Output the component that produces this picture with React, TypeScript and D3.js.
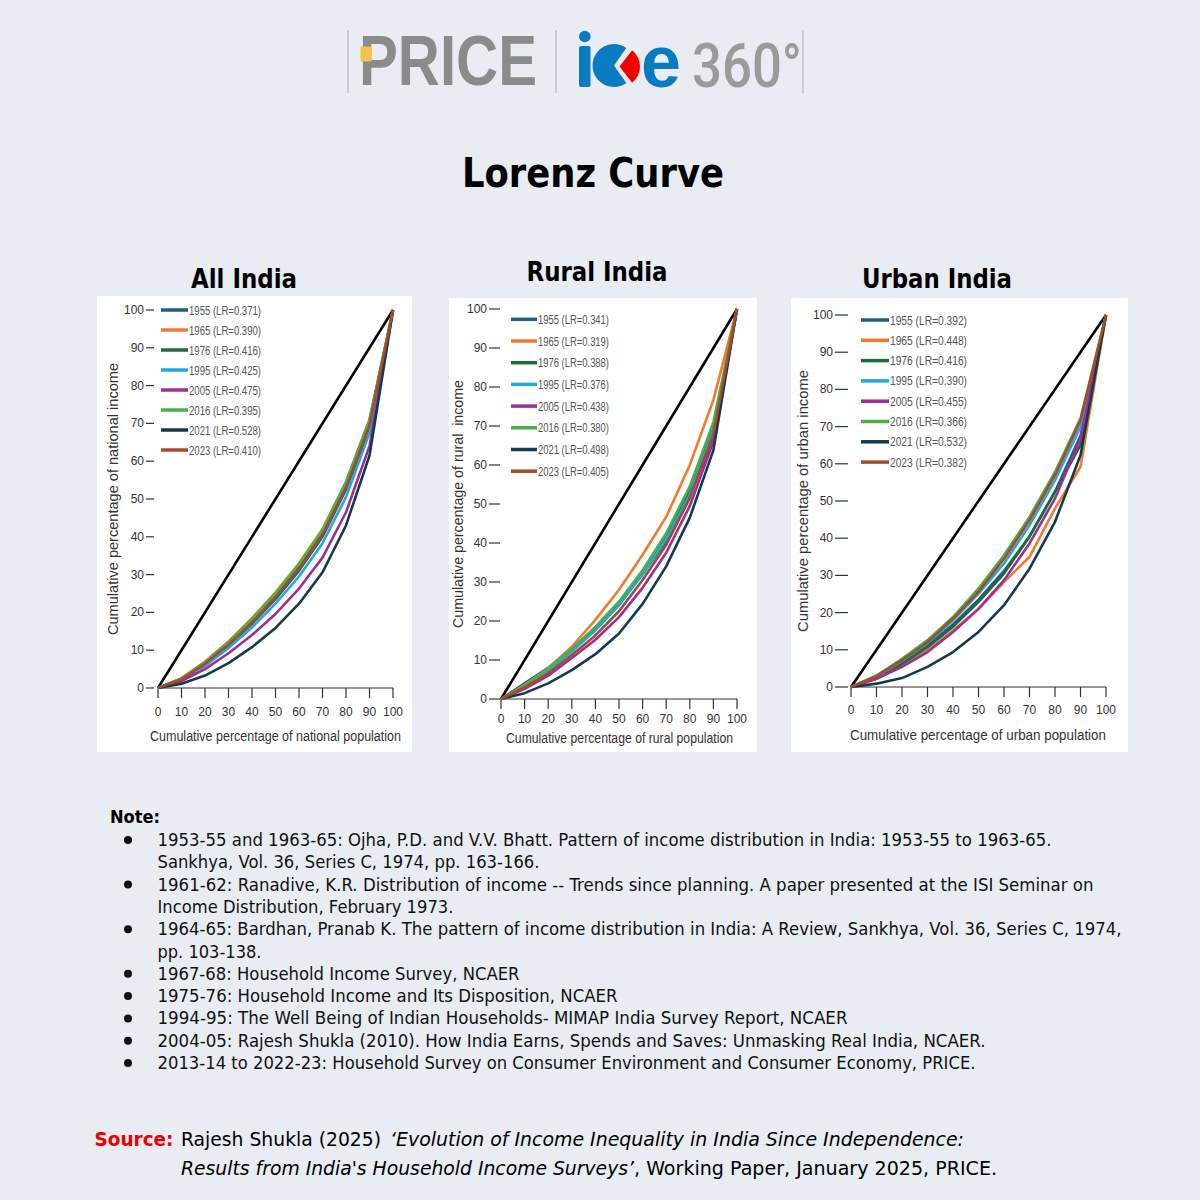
import * as d3 from 'd3';
import { useEffect } from 'react';

// cumulative population share (x) at which every curve is sampled
const deciles = [0, 10, 20, 30, 40, 50, 60, 70, 80, 90, 100];
const yTicks = [0, 10, 20, 30, 40, 50, 60, 70, 80, 90, 100];
const equality = [0, 100];

const years = ['1955', '1965', '1976', '1995', '2005', '2016', '2021', '2023'];
const allIndiaLR = ['0.371', '0.390', '0.416', '0.425', '0.475', '0.395', '0.528', '0.410'];
const ruralLR = ['0.341', '0.319', '0.388', '0.376', '0.438', '0.380', '0.498', '0.405'];
const urbanLR = ['0.392', '0.448', '0.416', '0.390', '0.455', '0.366', '0.532', '0.382'];

// cumulative income share, one row per year (same order as `years`)
const allIndiaShares = [
  [0, 2.3, 6.3, 11.3, 17, 23.5, 31, 40, 52.5, 69, 100],
  [0, 2.6, 7, 12.3, 18.5, 25.3, 33, 42, 54.5, 71, 100],
  [0, 2.4, 6.6, 11.8, 17.8, 24.5, 32.2, 41.2, 53.8, 70.5, 100],
  [0, 2.1, 5.8, 10.6, 16, 22.3, 29.5, 38.3, 50.5, 67.5, 100],
  [0, 1.8, 5, 9.2, 14, 19.6, 26.3, 34.5, 46.5, 64, 100],
  [0, 2.5, 6.8, 12.1, 18.2, 25, 32.8, 41.8, 54.5, 71, 100],
  [0, 1.1, 3.3, 6.6, 10.8, 15.9, 22.3, 30.6, 43, 61.5, 100],
  [0, 2.3, 6.4, 11.5, 17.3, 24, 31.5, 40.5, 53, 69.5, 100],
];
const ruralShares = [
  [0, 4, 8, 12.8, 18, 24.5, 32, 40.5, 52, 67, 100],
  [0, 3.6, 7.9, 13.4, 20.3, 28, 37, 46.7, 60, 76.7, 100],
  [0, 3.4, 7.5, 12.5, 18, 24.5, 32.5, 41.5, 53.5, 70, 100],
  [0, 3.2, 7.2, 12.2, 17.6, 24, 32, 41, 52.5, 69, 100],
  [0, 2.6, 6, 10.5, 15.2, 21, 28.5, 37.5, 49.5, 66, 100],
  [0, 3.5, 7.8, 12.9, 18.5, 25, 33, 42.5, 54.5, 71, 100],
  [0, 1.5, 4, 7.4, 11.5, 16.8, 24.4, 34, 46.5, 63.8, 100],
  [0, 3, 6.6, 11.3, 16.3, 22.5, 30.5, 39.5, 51.5, 68, 100],
];
const urbanShares = [
  [0, 2.6, 6.5, 11.2, 16.8, 23.5, 31.2, 40.5, 52.5, 67.5, 100],
  [0, 2.2, 5.8, 9.9, 15.2, 21, 28.2, 35, 48, 59.2, 100],
  [0, 2.5, 6.2, 10.7, 16.2, 22.9, 30.5, 40.4, 52.5, 65, 100],
  [0, 2.8, 7, 11.8, 17.9, 25.1, 33.2, 43.5, 55.6, 70, 100],
  [0, 2.2, 5.4, 9.4, 14.8, 21, 28.7, 38.6, 50.7, 66.8, 100],
  [0, 3.1, 7.6, 12.6, 18.8, 26.5, 35.4, 45.7, 57.8, 72.2, 100],
  [0, 0.9, 2.4, 5.4, 9.4, 14.8, 22, 31.8, 44.4, 62.3, 100],
  [0, 2.9, 7.2, 12.1, 18.4, 25.6, 34.5, 44.8, 57, 71.7, 100],
];

const seriesColors = ['#1d5f86', '#f27a30', '#1b6b3b', '#22a7de', '#9a2f98', '#4bb04a', '#143a4d', '#a64a2a'];

const noteLines = [
  '1953-55 and 1963-65: Ojha, P.D. and V.V. Bhatt. Pattern of income distribution in India: 1953-55 to 1963-65.',
  'Sankhya, Vol. 36, Series C, 1974, pp. 163-166.',
  '1961-62: Ranadive, K.R. Distribution of income -- Trends since planning. A paper presented at the ISI Seminar on',
  'Income Distribution, February 1973.',
  '1964-65: Bardhan, Pranab K. The pattern of income distribution in India: A Review, Sankhya, Vol. 36, Series C, 1974,',
  'pp. 103-138.',
  '1967-68: Household Income Survey, NCAER',
  '1975-76: Household Income and Its Disposition, NCAER',
  '1994-95: The Well Being of Indian Households- MIMAP India Survey Report, NCAER',
  '2004-05: Rajesh Shukla (2010). How India Earns, Spends and Saves: Unmasking Real India, NCAER.',
  '2013-14 to 2022-23: Household Survey on Consumer Environment and Consumer Economy, PRICE.',
];
const noteBullets = [true, false, true, false, true, false, true, true, true, true, true];
const noteWidths = [894, 382, 936, 296, 964, 104, 362, 460, 690, 828, 818];

const chartFont = "'Liberation Sans Narrow', 'Liberation Sans', Arial, sans-serif";
const textFont = "'DejaVu Sans', Verdana, sans-serif";

type PanelSpec = {
  title: string;
  titleX: number;
  titleY: number;
  titleW: number;
  box: [number, number, number, number];
  x0: number;
  x1: number;
  y0: number;
  y1: number;
  dash: [number, number];
  tickLabelY: number;
  xLabel: string;
  xLabelX: number;
  xLabelY: number;
  xLabelW: number;
  yLabel: string;
  yLabelX: number;
  yLabelY: number;
  yLabelW: number;
  legendX: [number, number];
  legendY0: number;
  legendDy: number;
  legendW: number;
  legendSize: number;
  shares: number[][];
  lr: string[];
};

function Panel({ p }: { p: PanelSpec }) {
  const x = d3.scaleLinear().domain([0, 100]).range([p.x0, p.x1]);
  const y = d3.scaleLinear().domain([0, 100]).range([p.y0, p.y1]);
  const curve = d3
    .line<number>()
    .x((_, i) => x(deciles[i]))
    .y((d) => y(d));
  const diag = d3
    .line<number>()
    .x((d) => x(d))
    .y((d) => y(d));

  return (
    <g>
      <text
        x={p.titleX}
        y={p.titleY}
        textAnchor="middle"
        fontFamily={textFont}
        fontWeight="bold"
        fontSize={26}
        textLength={p.titleW}
        lengthAdjust="spacingAndGlyphs"
        fill="#000"
      >
        {p.title}
      </text>
      <rect x={p.box[0]} y={p.box[1]} width={p.box[2]} height={p.box[3]} fill="#fff" />

      {/* y ticks: label + short dash, no axis line */}
      {yTicks.map((t) => (
        <g key={t}>
          <line x1={p.dash[0]} x2={p.dash[1]} y1={y(t)} y2={y(t)} stroke="#333" strokeWidth={1.2} />
          <text
            x={p.dash[0] - 2}
            y={y(t) + 4}
            textAnchor="end"
            fontFamily={chartFont}
            fontSize={12}
            fill="#333"
          >
            {t}
          </text>
        </g>
      ))}

      {/* x axis */}
      <line x1={x(0)} x2={x(100)} y1={p.y0} y2={p.y0} stroke="#333" strokeWidth={1.2} />
      {deciles.map((t) => (
        <g key={t}>
          <line x1={x(t)} x2={x(t)} y1={p.y0} y2={p.y0 + 10} stroke="#333" strokeWidth={1.2} />
          <text
            x={x(t)}
            y={p.tickLabelY + 4}
            textAnchor="middle"
            fontFamily={chartFont}
            fontSize={12}
            fill="#333"
          >
            {t}
          </text>
        </g>
      ))}
      <text
        x={p.xLabelX}
        y={p.xLabelY}
        textAnchor="middle"
        fontFamily={chartFont}
        fontSize={14}
        textLength={p.xLabelW}
        lengthAdjust="spacingAndGlyphs"
        fill="#333"
      >
        {p.xLabel}
      </text>
      <text
        transform={`translate(${p.yLabelX},${p.yLabelY}) rotate(-90)`}
        textAnchor="middle"
        dominantBaseline="central"
        fontFamily={chartFont}
        fontSize={14}
        textLength={p.yLabelW}
        lengthAdjust="spacingAndGlyphs"
        fill="#333"
        style={{ whiteSpace: 'pre' }}
      >
        {p.yLabel}
      </text>

      <path d={diag(equality) ?? ''} fill="none" stroke="#000" strokeWidth={2.6} />
      {p.shares.map((row, i) => (
        <path
          key={years[i]}
          d={curve(row) ?? ''}
          fill="none"
          stroke={seriesColors[i]}
          strokeWidth={2.6}
          strokeLinejoin="round"
        />
      ))}

      {years.map((yr, i) => {
        const ly = p.legendY0 + i * p.legendDy;
        return (
          <g key={yr}>
            <line
              x1={p.legendX[0]}
              x2={p.legendX[1]}
              y1={ly}
              y2={ly}
              stroke={seriesColors[i]}
              strokeWidth={3.5}
            />
            <text
              x={p.legendX[1] + 1}
              y={ly + 4.5}
              fontFamily={chartFont}
              fontSize={p.legendSize}
              textLength={p.legendW}
              lengthAdjust="spacingAndGlyphs"
              fill="#555"
            >
              {`${yr} (LR=${p.lr[i]})`}
            </text>
          </g>
        );
      })}
    </g>
  );
}

function Logo() {
  const pac = d3.arc()({
    innerRadius: 0,
    outerRadius: 21.5,
    startAngle: (145 * Math.PI) / 180,
    endAngle: (395 * Math.PI) / 180,
  });
  const wedge = d3.arc()({
    innerRadius: 0,
    outerRadius: 20.5,
    startAngle: (38 * Math.PI) / 180,
    endAngle: (142 * Math.PI) / 180,
  });
  return (
    <g>
      {[348, 556, 803].map((lx) => (
        <line key={lx} x1={lx} x2={lx} y1={30} y2={93} stroke="#b8b8b8" strokeWidth={1.2} />
      ))}
      <text
        x={359}
        y={85}
        fontFamily="'Liberation Sans', Arial, sans-serif"
        fontWeight="bold"
        fontSize={70}
        textLength={178}
        lengthAdjust="spacingAndGlyphs"
        fill="#8b8b8b"
      >
        PRICE
      </text>
      <rect x={360.5} y={46.5} width={11} height={15} fill="#f6c445" />
      <rect x={579} y={46} width={11.5} height={41} rx={2} fill="#0a7bc0" />
      <circle cx={584.8} cy={36.5} r={5.8} fill="#0a7bc0" />
      <path d={pac ?? ''} transform="translate(614,65.5)" fill="#0a7bc0" />
      <path d={wedge ?? ''} transform="translate(619.5,66.5)" fill="#f40000" />
      <text
        x={641}
        y={87}
        fontFamily="'Liberation Sans', Arial, sans-serif"
        fontWeight="bold"
        fontSize={74}
        textLength={40}
        lengthAdjust="spacingAndGlyphs"
        fill="#0a7bc0"
      >
        e
      </text>
      <text
        x={692}
        y={87}
        fontFamily="Roboto, 'Liberation Sans', sans-serif"
        fontWeight={500}
        fontSize={61}
        textLength={110}
        lengthAdjust="spacingAndGlyphs"
        fill="#9b9b9b"
      >
        360°
      </text>
    </g>
  );
}

export default function App() {
  useEffect(() => {
    document.body.style.margin = '0';
  }, []);

  const panels: PanelSpec[] = [
    {
      title: 'All India',
      titleX: 244,
      titleY: 288,
      titleW: 106,
      box: [97, 296, 315, 456],
      x0: 158,
      x1: 393,
      y0: 688,
      y1: 310,
      dash: [146, 154],
      tickLabelY: 712,
      xLabel: 'Cumulative percentage of national population',
      xLabelX: 275.5,
      xLabelY: 741,
      xLabelW: 251,
      yLabel: 'Cumulative percentage of national income',
      yLabelX: 113,
      yLabelY: 499,
      yLabelW: 272,
      legendX: [161, 188],
      legendY0: 310,
      legendDy: 20,
      legendW: 72,
      legendSize: 12.5,
      shares: allIndiaShares,
      lr: allIndiaLR,
    },
    {
      title: 'Rural India',
      titleX: 597,
      titleY: 281,
      titleW: 141,
      box: [449, 298, 308, 454],
      x0: 501,
      x1: 737,
      y0: 699,
      y1: 309,
      dash: [489, 500],
      tickLabelY: 719,
      xLabel: 'Cumulative percentage of rural population',
      xLabelX: 619.5,
      xLabelY: 743,
      xLabelW: 227,
      yLabel: 'Cumulative percentage of rural  income',
      yLabelX: 458,
      yLabelY: 504,
      yLabelW: 248,
      legendX: [511, 537],
      legendY0: 319.3,
      legendDy: 21.7,
      legendW: 71,
      legendSize: 12.5,
      shares: ruralShares,
      lr: ruralLR,
    },
    {
      title: 'Urban India',
      titleX: 937,
      titleY: 288,
      titleW: 150,
      box: [791, 298, 337, 454],
      x0: 851,
      x1: 1106,
      y0: 687,
      y1: 315,
      dash: [835, 848],
      tickLabelY: 710,
      xLabel: 'Cumulative percentage of urban population',
      xLabelX: 978,
      xLabelY: 740,
      xLabelW: 256,
      yLabel: 'Cumulative percentage of urban income',
      yLabelX: 803,
      yLabelY: 501,
      yLabelW: 262,
      legendX: [861, 889],
      legendY0: 320,
      legendDy: 20.3,
      legendW: 77,
      legendSize: 13,
      shares: urbanShares,
      lr: urbanLR,
    },
  ];

  return (
    <svg
      width={1200}
      height={1200}
      viewBox="0 0 1200 1200"
      style={{ position: 'absolute', left: 0, top: 0, display: 'block' }}
    >
      <rect x={0} y={0} width={1200} height={1200} fill="#e9ecf3" />
      <Logo />
      <text
        x={593}
        y={187}
        textAnchor="middle"
        fontFamily={textFont}
        fontWeight="bold"
        fontSize={40}
        textLength={262}
        lengthAdjust="spacingAndGlyphs"
        fill="#000"
      >
        Lorenz Curve
      </text>

      {panels.map((p) => (
        <Panel key={p.title} p={p} />
      ))}

      <text
        x={110}
        y={823}
        fontFamily={textFont}
        fontWeight="bold"
        fontSize={17}
        textLength={50}
        lengthAdjust="spacingAndGlyphs"
        fill="#000"
      >
        Note:
      </text>
      {noteLines.map((line, i) => {
        const ly = 840 + i * 22.3;
        return (
          <g key={i}>
            {noteBullets[i] && <circle cx={128} cy={ly} r={4} fill="#111" />}
            <text
              x={157.5}
              y={ly + 6}
              fontFamily={textFont}
              fontSize={17}
              textLength={noteWidths[i]}
              lengthAdjust="spacingAndGlyphs"
              fill="#111"
            >
              {line}
            </text>
          </g>
        );
      })}

      <text
        x={94.5}
        y={1146}
        fontFamily={textFont}
        fontWeight="bold"
        fontSize={19}
        textLength={79}
        lengthAdjust="spacingAndGlyphs"
        fill="#ee0000"
      >
        Source:
      </text>
      <text
        x={181}
        y={1146}
        fontFamily={textFont}
        fontSize={19}
        textLength={200}
        lengthAdjust="spacingAndGlyphs"
        fill="#000"
      >
        Rajesh Shukla (2025)
      </text>
      <text
        x={390}
        y={1146}
        fontFamily={textFont}
        fontStyle="italic"
        fontSize={19}
        textLength={574}
        lengthAdjust="spacingAndGlyphs"
        fill="#000"
      >
        ‘Evolution of Income Inequality in India Since Independence:
      </text>
      <text
        x={181}
        y={1175}
        fontFamily={textFont}
        fontStyle="italic"
        fontSize={19}
        textLength={453}
        lengthAdjust="spacingAndGlyphs"
        fill="#000"
      >
        Results from India's Household Income Surveys’
      </text>
      <text
        x={634}
        y={1175}
        fontFamily={textFont}
        fontSize={19}
        textLength={363}
        lengthAdjust="spacingAndGlyphs"
        fill="#000"
      >
        , Working Paper, January 2025, PRICE.
      </text>
    </svg>
  );
}
